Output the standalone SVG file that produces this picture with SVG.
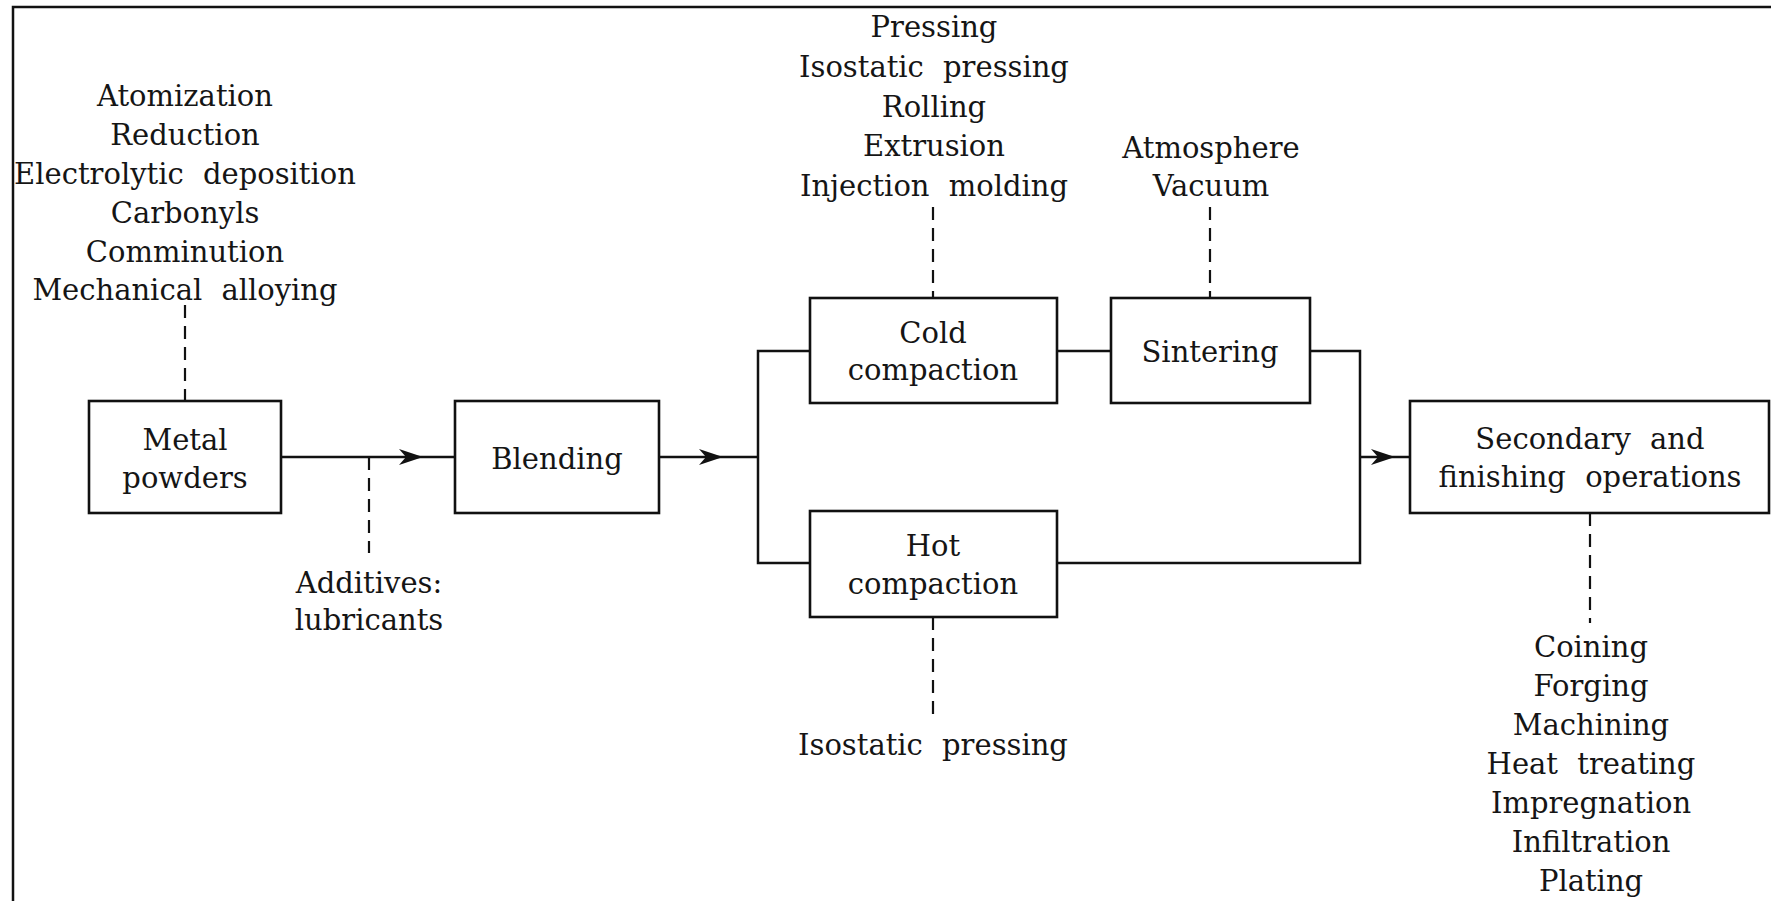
<svg xmlns="http://www.w3.org/2000/svg" width="1771" height="901" viewBox="0 0 1771 901">
<style>
text{font-family:"DejaVu Serif","Liberation Serif",serif;font-size:29px;fill:#151515;text-anchor:middle;word-spacing:10px}
.box{fill:#fff;stroke:#111;stroke-width:2.6}
.ln{fill:none;stroke:#111;stroke-width:2.5}
.dash{fill:none;stroke:#111;stroke-width:2.2;stroke-dasharray:13 8}
</style>
<defs>
<marker id="ah" viewBox="0 0 24 16" refX="24" refY="8" markerWidth="24" markerHeight="16" markerUnits="userSpaceOnUse" orient="auto">
<path d="M0,0 L24,8 L0,16 L7,8 Z" fill="#111"/>
</marker>
</defs>
<rect width="1771" height="901" fill="#fff"/>
<g id="frame">
<path class="ln" d="M13,901 L13,7 L1771,7" stroke-width="2.6"/>
</g>
<g id="connectors">
<line class="ln" x1="281" y1="457" x2="423" y2="457" marker-end="url(#ah)"/>
<line class="ln" x1="423" y1="457" x2="455" y2="457"/>
<line class="ln" x1="659" y1="457" x2="723" y2="457" marker-end="url(#ah)"/>
<line class="ln" x1="723" y1="457" x2="758" y2="457"/>
<path class="ln" d="M810,351 L758,351 L758,563 L810,563"/>
<line class="ln" x1="1057" y1="351" x2="1111" y2="351" stroke-width="3.4"/>
<path class="ln" d="M1310,351 L1360,351 L1360,563 L1057,563"/>
<line class="ln" x1="1360" y1="457" x2="1395" y2="457" marker-end="url(#ah)"/>
<line class="ln" x1="1395" y1="457" x2="1410" y2="457"/>
<line class="dash" x1="185" y1="305" x2="185" y2="401"/>
<line class="dash" x1="369" y1="457" x2="369" y2="553"/>
<line class="dash" x1="933" y1="207" x2="933" y2="298"/>
<line class="dash" x1="1210" y1="207" x2="1210" y2="298"/>
<line class="dash" x1="933" y1="617" x2="933" y2="720"/>
<line class="dash" x1="1590" y1="513" x2="1590" y2="623"/>
</g>
<g id="powder-methods">
<text x="185" y="106">Atomization</text>
<text x="185" y="145">Reduction</text>
<text x="185" y="184">Electrolytic deposition</text>
<text x="185" y="223">Carbonyls</text>
<text x="185" y="262">Comminution</text>
<text x="185" y="300">Mechanical alloying</text>
</g>
<g id="metal-powders">
<rect class="box" x="89" y="401" width="192" height="112"/>
<text x="185" y="450">Metal</text>
<text x="185" y="488">powders</text>
</g>
<g id="additives">
<text x="369" y="593">Additives:</text>
<text x="369" y="630">lubricants</text>
</g>
<g id="blending">
<rect class="box" x="455" y="401" width="204" height="112"/>
<text x="557" y="469">Blending</text>
</g>
<g id="cold-methods">
<text x="934" y="37">Pressing</text>
<text x="934" y="77">Isostatic pressing</text>
<text x="934" y="117">Rolling</text>
<text x="934" y="156">Extrusion</text>
<text x="934" y="196">Injection molding</text>
</g>
<g id="cold-compaction">
<rect class="box" x="810" y="298" width="247" height="105"/>
<text x="933" y="343">Cold</text>
<text x="933" y="380">compaction</text>
</g>
<g id="hot-compaction">
<rect class="box" x="810" y="511" width="247" height="106"/>
<text x="933" y="556">Hot</text>
<text x="933" y="594">compaction</text>
</g>
<g id="hot-methods">
<text x="933" y="755">Isostatic pressing</text>
</g>
<g id="sintering-atmosphere">
<text x="1211" y="158">Atmosphere</text>
<text x="1211" y="196">Vacuum</text>
</g>
<g id="sintering">
<rect class="box" x="1111" y="298" width="199" height="105"/>
<text x="1210" y="362">Sintering</text>
</g>
<g id="secondary">
<rect class="box" x="1410" y="401" width="359" height="112"/>
<text x="1590" y="449">Secondary and</text>
<text x="1590" y="487">finishing operations</text>
</g>
<g id="finishing-methods">
<text x="1591" y="657">Coining</text>
<text x="1591" y="696">Forging</text>
<text x="1591" y="735">Machining</text>
<text x="1591" y="774">Heat treating</text>
<text x="1591" y="813">Impregnation</text>
<text x="1591" y="852">Infiltration</text>
<text x="1591" y="891">Plating</text>
</g>
</svg>
